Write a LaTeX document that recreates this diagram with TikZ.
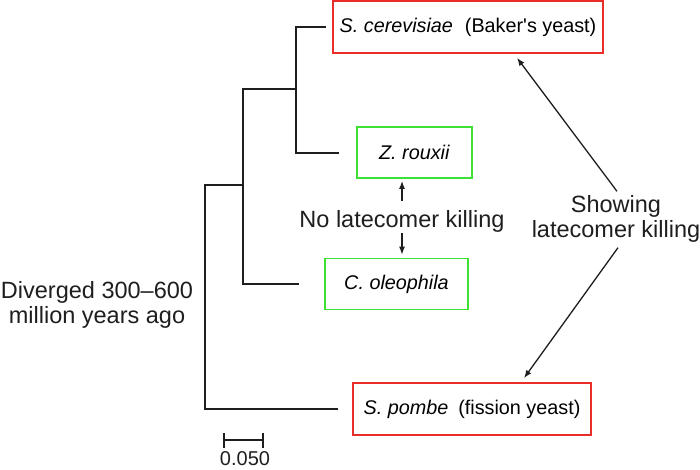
\documentclass[tikz,border=0pt]{standalone}
\usepackage{fontspec}
\setmainfont{Liberation Sans}[Ligatures=TeXOff]
\usetikzlibrary{arrows.meta}
\definecolor{boxred}{RGB}{234,45,40}
\definecolor{boxgreen}{RGB}{60,225,50}
\definecolor{ink}{RGB}{30,30,30}
\tikzset{
  redbox/.style={draw=boxred, line width=1.7pt, minimum height=52pt, inner sep=0pt, font=\fontsize{19.8}{22}\selectfont},
  greenbox/.style={draw=boxgreen, line width=1.7pt, minimum height=51pt, inner sep=0pt, font=\fontsize{19.8}{22}\selectfont},
  biglabel/.style={inner sep=0pt, align=center, font=\fontsize{23.5}{25}\selectfont, text=ink},
  branch/.style={draw=ink, line width=2pt},
  arr/.style={draw=ink, line width=1.3pt, -{Latex[length=8pt,width=6pt]}},
}
\begin{document}
\begin{tikzpicture}[x=1pt, y=-1pt]
\useasboundingbox (0,0) rectangle (700,469);
% boxes
\node[redbox, minimum width=270pt] (cere) at (468,27) {\textit{S. cerevisiae}\hspace{0.6em}(Baker's yeast)};
\node[greenbox, minimum width=115pt] (zr) at (414.5,152.5) {\textit{Z. rouxii}};
\node[greenbox, minimum width=143pt] (co) at (396.5,284) {\textit{C. oleophila}};
\node[redbox, minimum width=238pt] (sp) at (472,409) {\textit{S. pombe}\hspace{0.5em}(fission yeast)};
% labels
\node[biglabel, anchor=base] (nolk) at (402,227) {No latecomer killing};
\node[biglabel] (show) at (616,219) {Showing\\latecomer killing};
\node[biglabel] (div) at (97,305) {Diverged 300–600\\million years ago};
\node[inner sep=0pt, anchor=base, font=\fontsize{20}{22}\selectfont, text=ink] (scale) at (245,465) {0.050};
% tree
\coordinate (a3) at (296,89);
\coordinate (a2) at (243,185);
\coordinate (a1) at (205,185);
\draw[branch] ([xshift=-6pt]cere.west) -| (a3) |- ([xshift=-17pt]zr.west);
\draw[branch] (a3) -| (a2) |- ([xshift=-25pt]co.west);
\draw[branch] (a2) -- (a1) |- ([xshift=-14pt]sp.west);
% scale bar
\coordinate (s1) at (224,440);
\coordinate (s2) at (263,440);
\draw[branch] (s1) -- (s2);
\draw[branch] ([yshift=7.5pt]s1) -- ([yshift=-7.5pt]s1);
\draw[branch] ([yshift=7.5pt]s2) -- ([yshift=-7.5pt]s2);
% arrows
\draw[arr] ([yshift=9pt]nolk.north) -- ([yshift=-2pt]nolk.north |- zr.south);
\draw[arr] ([yshift=-1pt]nolk.south) -- ([yshift=3pt]nolk.south |- co.north);
\draw[arr] ([xshift=1pt,yshift=4pt]show.north) -- ([xshift=49pt,yshift=-4pt]cere.south);
\draw[arr] ([xshift=2pt,yshift=-5pt]show.south) -- ([xshift=52pt,yshift=4pt]sp.north);
\end{tikzpicture}
\end{document}
